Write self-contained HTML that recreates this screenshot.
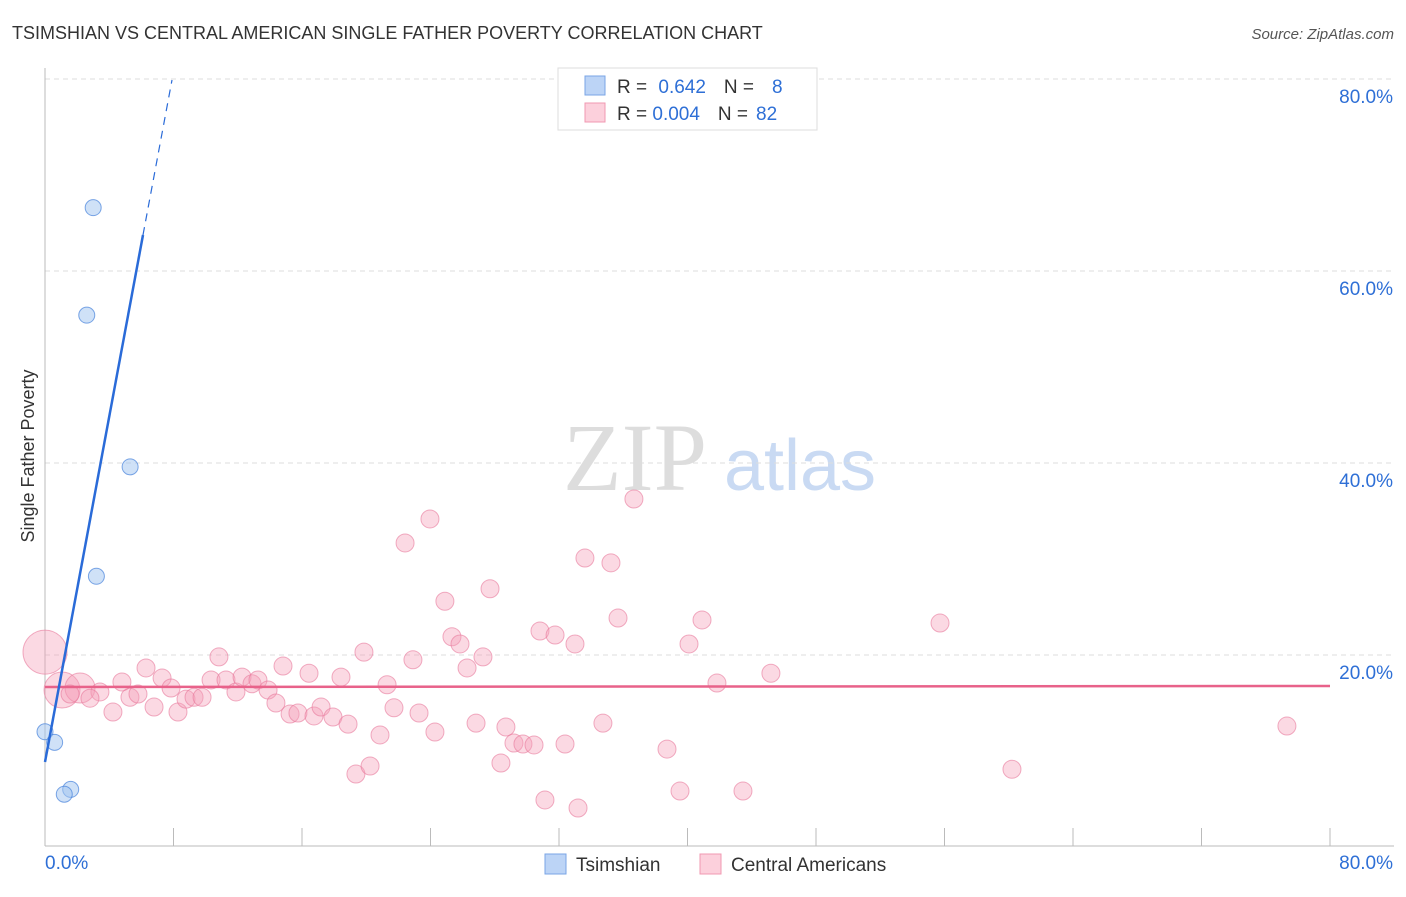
<!DOCTYPE html>
<html><head><meta charset="utf-8"><style>
body{margin:0;background:#fff;font-family:"Liberation Sans",sans-serif}
</style></head><body>
<svg id="chart" width="1406" height="892" xmlns="http://www.w3.org/2000/svg">
<text x="12" y="39" font-size="18" fill="#333">TSIMSHIAN VS CENTRAL AMERICAN SINGLE FATHER POVERTY CORRELATION CHART</text>
<text x="1394" y="39" font-size="15" fill="#555" font-style="italic" text-anchor="end">Source: ZipAtlas.com</text>
<text transform="translate(34,456) rotate(-90)" font-size="18" fill="#333" text-anchor="middle">Single Father Poverty</text>
<g>
<text x="635" y="490" font-size="96" fill="#ddd" text-anchor="middle" font-family="Liberation Serif,serif">ZIP</text>
<text x="800" y="490" font-size="72" fill="#c9daf3" text-anchor="middle">atlas</text>
</g>
<g id="grid"></g><g id="axes"></g><g id="pts"></g><g id="lines"></g>
<g>
<rect x="558" y="68" width="259" height="62" fill="#fff" stroke="#ddd"/>
<rect x="585" y="76" width="20" height="19" fill="#bcd4f6" stroke="#7aa5e6"/>
<rect x="585" y="103" width="20" height="19" fill="#fcd0dc" stroke="#f098b2"/>
<text x="617" y="93" font-size="19" fill="#333">R = <tspan fill="#2e6fd6" dx="6">0.642</tspan><tspan dx="18" fill="#333">N =</tspan><tspan dx="18" fill="#2e6fd6">8</tspan></text>
<text x="617" y="120" font-size="19" fill="#333">R = <tspan fill="#2e6fd6">0.004</tspan><tspan dx="18" fill="#333">N =</tspan><tspan dx="8" fill="#2e6fd6">82</tspan></text>
</g>
<g>
<rect x="545" y="854" width="21" height="20" fill="#bcd4f6" stroke="#7aa5e6"/>
<text x="576" y="871" font-size="19" fill="#333">Tsimshian</text>
<rect x="700" y="854" width="21" height="20" fill="#fcd0dc" stroke="#f098b2"/>
<text x="731" y="871" font-size="19" fill="#333">Central Americans</text>
</g>
</svg>
<script>
const yTicks=[20,40,60,80];
const blueX=[3.0,2.6,5.3,3.2,0,0.6,1.6,1.2];
const blueY=[66.6,55.4,39.6,28.2,12.0,10.9,6.0,5.5];
const pinkX=[0,1.06,2.18,1.56,3.42,2.8,4.23,4.79,5.29,5.79,6.29,6.79,7.29,7.85,8.28,8.78,9.28,9.78,10.34,10.83,11.27,11.89,12.27,12.89,13.26,13.89,14.38,14.82,15.26,15.75,16.44,16.75,17.19,17.93,18.43,18.87,19.36,19.86,20.24,20.86,21.3,21.73,22.42,22.91,23.29,23.97,24.28,24.9,25.34,25.84,26.28,26.84,27.27,27.71,28.39,28.7,29.2,29.76,30.45,30.82,31.13,31.76,32.38,33.0,33.19,33.62,34.74,35.24,35.68,36.67,38.73,39.54,40.1,40.91,41.84,43.46,45.2,55.73,60.21,77.33];
const pinkY=[20.3,16.35,16.56,15.94,16.15,15.5,14.06,17.19,15.6,15.94,18.65,14.58,17.6,16.56,14.06,15.4,15.6,15.6,17.4,19.8,17.4,16.15,17.7,17.0,17.4,16.35,15.0,18.85,13.85,13.96,18.1,13.65,14.58,13.54,17.7,12.8,7.6,20.3,8.44,11.67,16.9,14.5,31.67,19.5,13.96,34.17,11.98,25.6,21.9,21.15,18.65,12.9,19.8,26.9,8.75,12.5,10.83,10.73,10.63,22.5,4.9,22.08,10.73,21.15,4.06,30.1,12.9,29.6,23.85,36.25,10.2,5.83,21.15,23.65,17.08,5.83,18.1,23.33,8.1,12.6];
const X=v=>45+v*16.06, Y=v=>847-v*9.6;
const NS='http://www.w3.org/2000/svg';
function mk(t,a,p){const e=document.createElementNS(NS,t);for(const k in a)e.setAttribute(k,a[k]);document.getElementById(p).appendChild(e);return e;}
yTicks.forEach(t=>{
 const l=mk('line',{x1:45,x2:1394,y1:Y(t),y2:Y(t),stroke:'#ddd','stroke-dasharray':'5,4'},'grid');
 
 
 const tx=mk('text',{x:1393,y:Y(t)+24,'font-size':19,fill:'#2e6fd6','text-anchor':'end'},'axes');tx.textContent=t.toFixed(1)+'%';
 
 
});
mk('line',{x1:45,x2:45,y1:68,y2:846,stroke:'#bbb'},'axes');
mk('line',{x1:45,x2:1394,y1:846,y2:846,stroke:'#bbb'},'axes');
for(let i=1;i<=10;i++){const x=45+i*128.5;mk('line',{x1:x,x2:x,y1:828,y2:846,stroke:'#bbb'},'axes');}
let a=mk('text',{x:45,y:869,'font-size':19,fill:'#2e6fd6'},'axes');a.textContent='0.0%';


a=mk('text',{x:1393,y:869,'font-size':19,fill:'#2e6fd6','text-anchor':'end'},'axes');a.textContent='80.0%';


pinkX.forEach((v,i)=>{const r=i==0?22:(i==1?18:(i==2?15:9));
 const c=mk('circle',{cx:X(v),cy:Y(pinkY[i]),r:r,fill:'rgba(246,160,186,0.4)',stroke:'rgba(232,120,155,0.6)'},'pts');
 
 
});
blueX.forEach((v,i)=>{
 const c=mk('circle',{cx:X(v),cy:Y(blueY[i]),r:8,fill:'rgba(160,195,240,0.5)',stroke:'rgba(70,130,220,0.7)'},'pts');
 
 
});
let l=mk('line',{x1:45,y1:687,x2:1330,y2:686,stroke:'#e8628a','stroke-width':2.5},'lines');


l=mk('line',{x1:45,y1:762,x2:143,y2:235,stroke:'#2a6bd8','stroke-width':2.5},'lines');


l=mk('line',{x1:143,y1:235,x2:172,y2:80,stroke:'#2a6bd8','stroke-width':1.2,'stroke-dasharray':'8,6'},'lines');


</script>
</body></html>
